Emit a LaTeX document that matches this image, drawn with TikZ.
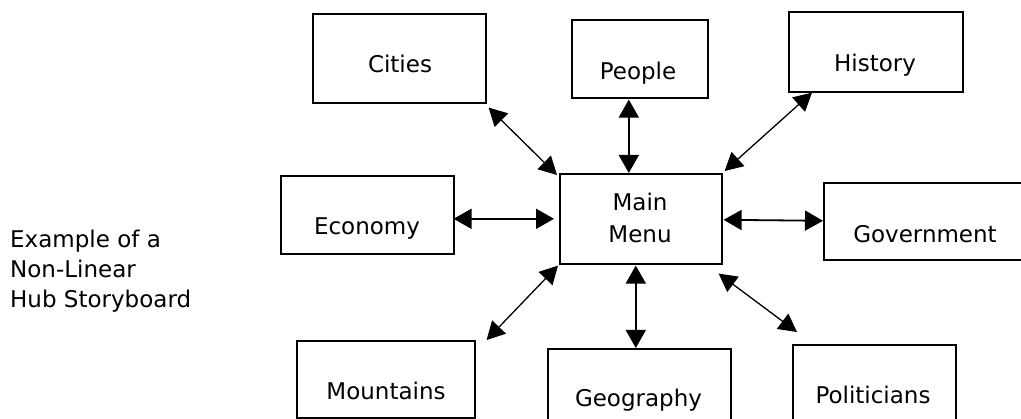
\documentclass[tikz,border=0pt]{standalone}
\usepackage{fontspec}
\setmainfont{DejaVu Sans}
\usetikzlibrary{arrows.meta}
\tikzset{
  box/.style={draw=black, line width=1.6pt, inner sep=0pt, anchor=north west, fill=white},
  lbl/.style={anchor=base, inner sep=0pt, font=\fontsize{23}{32}\selectfont},
  side/.style={anchor=base west, inner sep=0pt, font=\fontsize{23}{30}\selectfont},
  link/.style={line width=1.8pt, {Triangle[length=18pt,width=20pt]}-{Triangle[length=18pt,width=20pt]}},
  dlink/.style={line width=1.3pt, {Triangle[length=18pt,width=19pt]}-{Triangle[length=18pt,width=19pt]}}
}
\begin{document}
\begin{tikzpicture}[x=1pt,y=-1pt]
\useasboundingbox (0,0) rectangle (1021,419);
\fill[white] (0,0) rectangle (1021,419);
\clip (0,0) rectangle (1021,419);
% boxes
\node[box, minimum width=173pt, minimum height=89pt] (cities) at (312,13) {};
\node[box, minimum width=136pt, minimum height=78pt] (people) at (571,19) {};
\node[box, minimum width=174pt, minimum height=80pt] (history) at (788,11) {};
\node[box, minimum width=173pt, minimum height=78pt] (economy) at (280,175.5) {};
\node[box, minimum width=162pt, minimum height=90pt] (main) at (559,173) {};
\node[box, minimum width=204pt, minimum height=77pt] (government) at (823,182) {};
\node[box, minimum width=178pt, minimum height=77pt] (mountains) at (296,340) {};
\node[box, minimum width=183pt, minimum height=80pt] (geography) at (547,348) {};
\node[box, minimum width=163pt, minimum height=84pt] (politicians) at (792,344) {};
% texts
\node[lbl] (citiesT) at (400,73) {Cities};
\node[lbl] (peopleT) at (638,80) {People};
\node[lbl] (historyT) at (875,72) {History};
\node[lbl] (economyT) at (367,235) {Economy};
\node[lbl] (mainT1) at (640,211) {Main};
\node[lbl] (mainT2) at (640,243) {Menu};
\node[lbl] (governmentT) at (925,243) {Government};
\node[lbl] (mountainsT) at (386,400) {Mountains};
\node[lbl] (geographyT) at (638.5,407) {Geography};
\node[lbl] (politiciansT) at (873,404) {Politicians};
\node[side] (cap1) at (10,248) {Example of a};
\node[side] (cap2) at (10,278) {Non-Linear};
\node[side] (cap3) at (10,308) {Hub Storyboard};
% connectors
\draw[dlink] ([shift={(2,4)}]cities.south east) -- ([shift={(-2,2)}]main.north west);
\draw[link] ([shift={(-11,1)}]people.south) -- ([shift={(-12,0)}]main.north);
\draw[link] ([shift={(-1,3.5)}]economy.east) -- ([shift={(-5,0)}]main.west);
\draw[dlink] ([shift={(24,0)}]history.south west) -- ([shift={(2,-2)}]main.north east);
\draw[link] ([shift={(1,1)}]main.east) -- ([shift={(0,-0.5)}]government.west);
\draw[dlink] ([shift={(-1,1)}]main.south west) -- ([shift={(11,0)}]mountains.north east);
\draw[link] ([shift={(-5,1)}]main.south) -- ([shift={(-3.5,0)}]geography.north);
\draw[dlink] ([shift={(-4,9)}]main.south east) -- ([shift={(5,-12)}]politicians.north west);
\end{tikzpicture}
\end{document}
